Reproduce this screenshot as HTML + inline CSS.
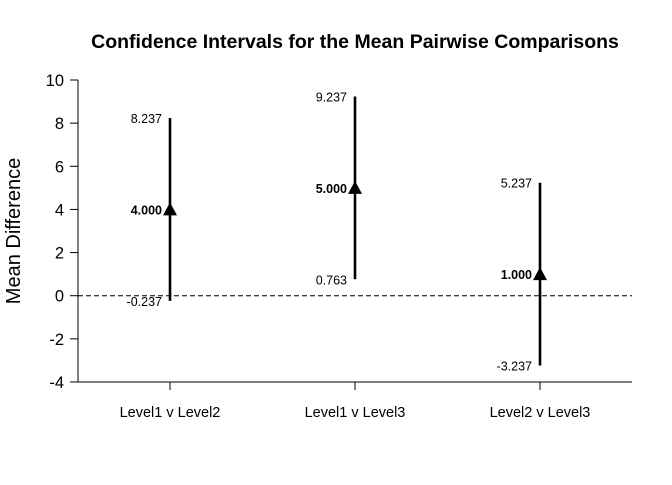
<!DOCTYPE html>
<html><head><meta charset="utf-8"><style>
body{margin:0;background:#fff}
svg text{font-family:"Liberation Sans",Arial,sans-serif}
</style></head><body>
<svg id="chart" width="672" height="480" xmlns="http://www.w3.org/2000/svg">
<text x="355" y="48" text-anchor="middle" font-size="19.5" font-weight="bold">Confidence Intervals for the Mean Pairwise Comparisons</text>
<text transform="translate(20,231) rotate(-90)" text-anchor="middle" font-size="20">Mean Difference</text>
<g id="axes"></g><g id="marks"></g>
</svg>
<script>
const categories=["Level1 v Level2","Level1 v Level3","Level2 v Level3"];
const means=[4.000,5.000,1.000];
const lowers=[-0.237,0.763,-3.237];
const uppers=[8.237,9.237,5.237];
const yTicks=[-4,-2,0,2,4,6,8,10];
const NS="http://www.w3.org/2000/svg";
const y=v=>382-(v+4)*(302/14);
const x=i=>170+i*185;
const axes=document.getElementById('axes'),marks=document.getElementById('marks');
function mk(p,t,a,txt){const e=document.createElementNS(NS,t);for(const k in a)e.setAttribute(k,a[k]);if(txt!==undefined)e.textContent=txt;p.appendChild(e);return e;}
let e=mk(axes,'line',{x1:78,x2:78,y1:y(10),y2:y(-4),stroke:'#000'});


e=mk(axes,'line',{x1:78,x2:632,y1:382,y2:382,stroke:'#000'});


yTicks.forEach(t=>{
 mk(axes,'line',{x1:70,x2:78,y1:y(t),y2:y(t),stroke:'#000'});
 e=mk(axes,'text',{x:64,y:y(t)+6,'text-anchor':'end','font-size':16.5},t);
 
 
});
e=mk(axes,'line',{x1:78,x2:632,y1:y(0),y2:y(0),stroke:'#000','stroke-dasharray':'5,3'});


categories.forEach((c,i)=>{
 const cx=x(i);
 mk(axes,'line',{x1:cx,x2:cx,y1:382,y2:390,stroke:'#000'});
 e=mk(axes,'text',{x:cx,y:417,'text-anchor':'middle','font-size':14.5},c);
 
 
 e=mk(marks,'line',{x1:cx,x2:cx,y1:y(lowers[i]),y2:y(uppers[i]),stroke:'#000','stroke-width':2.6});
 
 
 const my=y(means[i]);
 e=mk(marks,'polygon',{points:`${cx-7},${my+6} ${cx+7},${my+6} ${cx},${my-7}`,fill:'#000'});
 
 
 e=mk(marks,'text',{x:cx-8,y:my+5,'text-anchor':'end','font-size':12.5,'font-weight':'bold'},means[i].toFixed(3));
 
 
 e=mk(marks,'text',{x:cx-8,y:y(uppers[i])+5,'text-anchor':'end','font-size':12.5},uppers[i].toFixed(3));
 
 
 e=mk(marks,'text',{x:cx-8,y:y(lowers[i])+5,'text-anchor':'end','font-size':12.5},lowers[i].toFixed(3));
 
 
});
</script>
</body></html>
